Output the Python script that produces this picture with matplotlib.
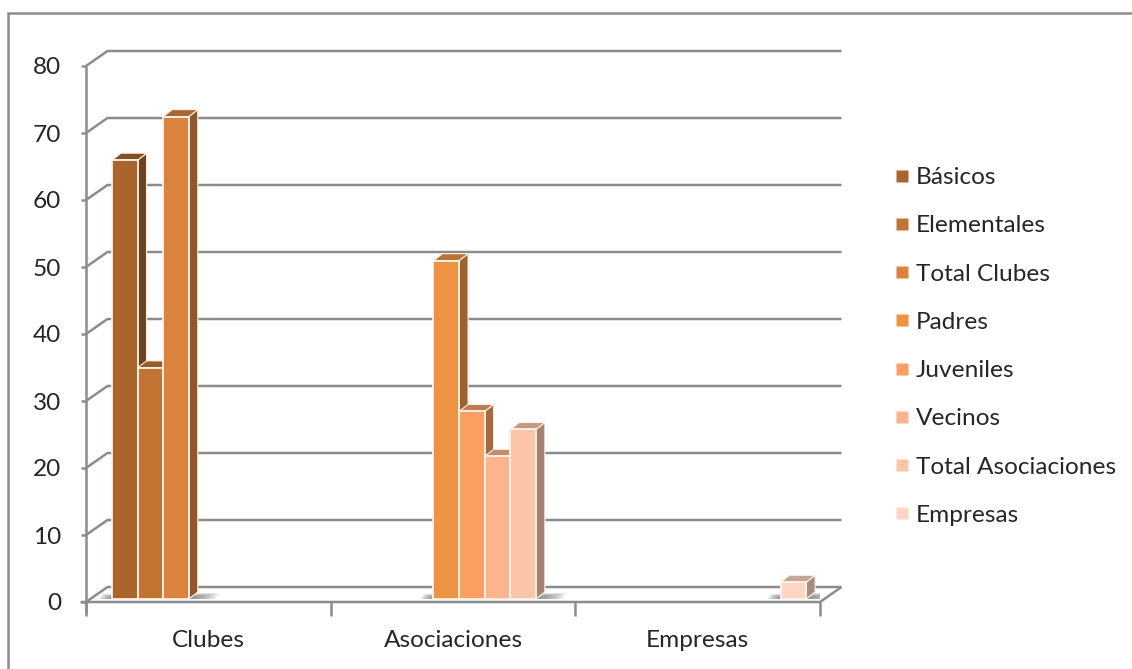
import numpy as np
import matplotlib
matplotlib.use('Agg')
import matplotlib.pyplot as plt
from matplotlib.lines import Line2D
from matplotlib.patches import Polygon, Rectangle

# ------------------------------------------------------------
# Data
# ------------------------------------------------------------
categories = ['Clubes', 'Asociaciones', 'Empresas']
series = ['Básicos', 'Elementales', 'Total Clubes', 'Padres',
          'Juveniles', 'Vecinos', 'Total Asociaciones', 'Empresas']
series_cat = [0, 0, 0, 1, 1, 1, 1, 2]
values = [65.5, 34.5, 72, 50.5, 28, 21.3, 25.3, 2.5]
colors = ['#A9652B', '#C27532', '#DB823E', '#EE9342',
          '#FB9F62', '#FBB48C', '#FCC5A8', '#FCD6C5']
yticks = np.arange(0, 90, 10)

W, H = 1132, 669
GRAY = '#8C8C8C'
TEXT = '#262626'
FONT_SIZE = 17.6
plt.rcParams['font.family'] = ['Lato', 'DejaVu Sans']

fig = plt.figure(figsize=(W / 100, H / 100), dpi=100, facecolor='white')

# front plane of the box, everything below is in data units of this axes
left, right, top, bottom = 86, 820, 66, 602
ax = fig.add_axes([left / W, 1 - bottom / H, (right - left) / W, (bottom - top) / H])
ax.set_xlim(0, 3)
ax.set_ylim(0, 80)
ax.patch.set_alpha(0)
for s in ax.spines.values():
    s.set_visible(False)

px_x = 3 / (right - left)
px_y = 80 / (bottom - top)
wall_dx, wall_dy = 21.5 * px_x, 15 * px_y
bar_dx, bar_dy = 9 * px_x, 7 * px_y
bar_w = 25.6 * px_x
bar_start = 26 * px_x
bar_base = 3 * px_y
line_kw = dict(color=GRAY, lw=1.8, solid_capstyle='butt', clip_on=False, zorder=1)

# back wall gridlines and the slanted joins to the front axis
for v in yticks:
    ax.plot([0, wall_dx, 3 + wall_dx], [v, v + wall_dy, v + wall_dy], **line_kw)
    ax.plot([-5.5 * px_x, 0], [v, v], **line_kw)

# front axis lines and the floor edge
ax.plot([0, 0], [-1.7, 80], **line_kw)
ax.plot([-5.5 * px_x, 3, 3 + wall_dx], [0, 0, wall_dy], **line_kw)
for i in range(4):
    ax.plot([i, i], [-14 * px_y, 0], **line_kw)


def shade(color, k):
    rgb = np.array(matplotlib.colors.to_rgb(color))
    return tuple(rgb * k)


# soft shadows on the floor at each group of bars, stacked layers shrink towards the bar
def floor_shadow(x0, x1, y0, y1):
    steps = 10
    for k in range(steps):
        f = k / steps
        xe = x1 - (x1 - x0) * f
        ye = y1 - (y1 - y0) * f * 0.7
        ax.add_patch(Polygon([(x0, y0), (xe, y0), (xe + 3 * px_x, ye), (x0 + 6 * px_x, ye)],
                             facecolor='#6E6E6E', edgecolor='none', alpha=0.12, zorder=1.5))


for cat, first, last in [(0, 0, 2), (1, 3, 6), (2, 7, 7)]:
    x_l = cat + bar_start + bar_w * first
    x_r = cat + bar_start + bar_w * (last + 1)
    floor_shadow(x_r, x_r + 27 * px_x, bar_base, bar_base + 6 * px_y)
    floor_shadow(x_l, x_l - 13 * px_x, bar_base, bar_base + 5 * px_y)

# bars: front face from ax.bar, side and top faces from the same values
edge = '#FDF3EC'
for i, (cat, v, c) in enumerate(zip(series_cat, values, colors)):
    x0 = cat + bar_start + bar_w * i
    x1 = x0 + bar_w
    y1 = bar_base + v
    z = 3 + i
    side = [(x1, bar_base), (x1 + bar_dx, bar_base + bar_dy), (x1 + bar_dx, y1 + bar_dy), (x1, y1)]
    cap = [(x0, y1), (x0 + bar_dx, y1 + bar_dy), (x1 + bar_dx, y1 + bar_dy), (x1, y1)]
    ax.add_patch(Polygon(side, facecolor=shade(c, 0.66), edgecolor=edge, lw=0.8, zorder=z))
    ax.add_patch(Polygon(cap, facecolor=shade(c, 0.78), edgecolor=edge, lw=0.8, zorder=z))
    ax.bar(x0, v, width=bar_w, bottom=bar_base, align='edge', color=c,
           edgecolor=edge, linewidth=1.3, zorder=z + 0.5)

# tick labels
ax.set_xticks([0.5, 1.5, 2.5], categories)
ax.set_yticks(yticks)
ax.tick_params(axis='both', length=0, labelsize=FONT_SIZE, labelcolor=TEXT)
ax.tick_params(axis='x', pad=20)
ax.tick_params(axis='y', pad=18)

# legend
handles = [Line2D([], [], linestyle='none', marker='s', markersize=8.2, color=c,
                  markeredgecolor='none') for c in colors]
fig.legend(handles, series, loc='center left', bbox_to_anchor=(890 / W, 1 - 346.5 / H),
           frameon=False, fontsize=FONT_SIZE, labelcolor=TEXT, labelspacing=1.11,
           handlelength=1.0, handletextpad=0.06, borderpad=0, borderaxespad=0)

# chart frame
fig.add_artist(Rectangle((8 / W, -0.05), 1.2, 1 - 13 / H + 0.05, transform=fig.transFigure,
                         fill=False, edgecolor=GRAY, lw=1.8))

fig.savefig('out.png', dpi=100)
